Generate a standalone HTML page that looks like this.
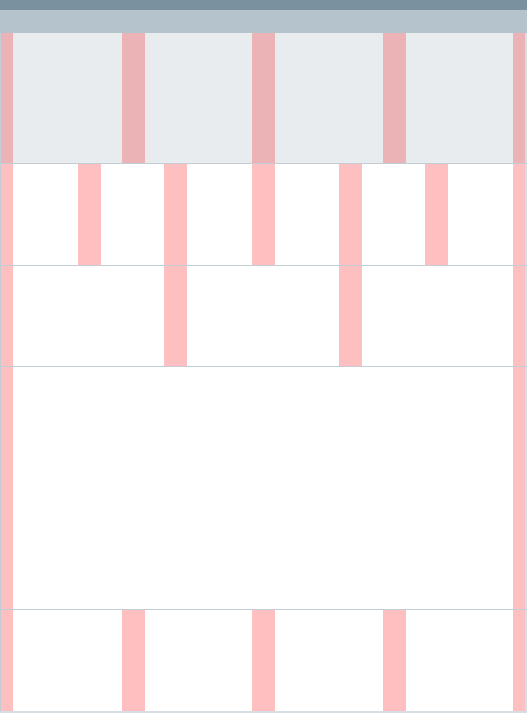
<!DOCTYPE html>
<html><head><meta charset="utf-8"><style>
html,body{margin:0;padding:0;width:527px;height:713px;overflow:hidden;background:#fff;font-family:"Liberation Sans",sans-serif}
.a{position:absolute}
.s{position:absolute;background:#fdbfbf}
.g{background:#ebb3b5}
.l{position:absolute;left:0;width:527px;height:1px;background:#c3cdd6}
</style></head><body>
<div class="a" style="left:0;top:0;width:527px;height:10px;background:#7a929f"></div>
<div class="a" style="left:0;top:10px;width:527px;height:23px;background:#b5c3cc"></div>
<div class="a" style="left:0;top:33px;width:527px;height:130px;background:#e8ecef"></div>
<div class="a" style="left:0;top:33px;width:1px;height:680px;background:#c3cdd6"></div>
<div class="a" style="left:525px;top:33px;width:2px;height:680px;background:#d6dde3"></div>
<div class="l" style="top:163px"></div>
<div class="l" style="top:265px"></div>
<div class="l" style="top:366px"></div>
<div class="l" style="top:609px"></div>
<div class="l" style="top:711px;height:2px;background:#d6dde3"></div>
<div id="cols"></div>
<script>
var rows=[[33,130,[1,122,252,383,513],true],[164,101,[1,78,164,252,339,425,513],false],[266,100,[1,164,339,513],false],[367,242,[1,513],false],[610,101,[1,122,252,383,513],false]];
var c=document.getElementById('cols');
rows.forEach(function(r,ri){r[2].forEach(function(x,i){
var d=document.createElement('div');
d.className='s'+(r[3]?' g':'');
var w=(x===1||x===513)?12:23;
d.style.left=x+'px';d.style.top=r[0]+'px';d.style.width=w+'px';d.style.height=r[1]+'px';


c.appendChild(d);});});
</script>
</body></html>
